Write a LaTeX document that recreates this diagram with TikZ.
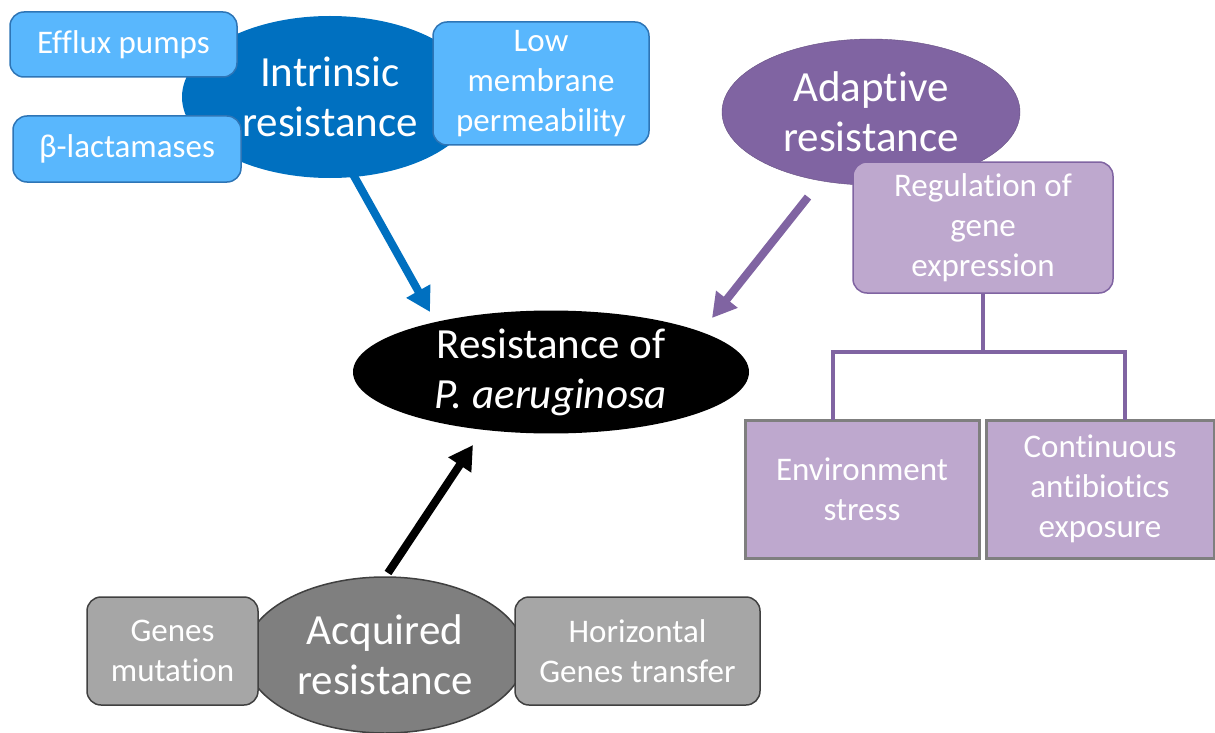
\documentclass[tikz,border=0pt]{standalone}
\usepackage{fontspec}
\setmainfont{Carlito}[Ligatures=NoCommon]
\usetikzlibrary{shapes.geometric,arrows.meta}

\definecolor{intrblue}{RGB}{0,112,192}
\definecolor{lightblue}{RGB}{89,183,253}
\definecolor{blueedge}{RGB}{46,117,182}
\definecolor{adapurple}{RGB}{128,100,162}
\definecolor{lavender}{RGB}{190,168,206}
\definecolor{acqgray}{RGB}{127,127,127}
\definecolor{boxgray}{RGB}{166,166,166}
\definecolor{edgegray}{RGB}{64,64,64}

\tikzset{
  bigoval/.style={ellipse, inner sep=0pt, text=white, align=center,
    font=\fontsize{43}{50}\selectfont},
  smallbox/.style={rounded corners=14pt, inner sep=0pt, text=white, align=center,
    font=\fontsize{33}{40}\selectfont},
  bigarrow/.style={line width=8pt, -{Triangle[width=26pt,length=24pt]}},
}

\begin{document}
\begin{tikzpicture}[x=1pt,y=-1pt]
      \useasboundingbox (0,0) rectangle (1215,733);
      % intrinsic
      \node[bigoval, fill=intrblue, minimum width=296pt, minimum height=162pt] (intr) at (330,97) {Intrinsic\\resistance};
      \node[smallbox, fill=lightblue, draw=blueedge, line width=1.5pt, minimum width=227pt, minimum height=65pt] (efflux) at (123.5,44.5) {Efflux pumps};
      \node[smallbox, fill=lightblue, draw=blueedge, line width=1.5pt, minimum width=228pt, minimum height=66pt] (lact) at (127,149) {β-lactamases};
      \node[smallbox, fill=lightblue, draw=blueedge, line width=1.5pt, minimum width=216pt, minimum height=123pt] (perm) at (541,83.5) {Low\\membrane\\permeability};
      % adaptive
      \node[bigoval, fill=adapurple, draw=adapurple!80!black, minimum width=298pt, minimum height=146pt] (adap) at (871,112) {Adaptive\\resistance};
      \node[smallbox, fill=lavender, draw=adapurple, line width=1.5pt, minimum width=260pt, minimum height=131pt] (reg) at (983,227.5) {Regulation of\\gene\\expression};
      \node[smallbox, rounded corners=0pt, fill=lavender, draw=acqgray, line width=3pt, minimum width=234pt, minimum height=138pt] (env) at (862,489) {Environment\\stress};
      \node[smallbox, rounded corners=0pt, fill=lavender, draw=acqgray, line width=3pt, minimum width=228pt, minimum height=138pt] (cont) at (1100,489) {Continuous\\antibiotics\\exposure};
      \coordinate (fork) at (983,352);
      \coordinate (envtop) at (833,420);
      \coordinate (conttop) at (1125,420);
      \draw[adapurple, line width=4pt] (reg.south) -- (fork);
      \draw[adapurple, line width=4pt] (envtop) |- (fork) -| (conttop);
      % centre
      \node[bigoval, fill=black, minimum width=396pt, minimum height=114pt] (res) at (551,372) {Resistance of\\\textit{P. aeruginosa}};
      % acquired
      \node[bigoval, fill=acqgray, draw=edgegray, line width=1.5pt, minimum width=280pt, minimum height=156pt] (acq) at (385,655) {Acquired\\resistance};
      \node[smallbox, fill=boxgray, draw=edgegray, line width=1.5pt, minimum width=171pt, minimum height=108pt] (mut) at (172.5,651) {Genes\\mutation};
      \node[smallbox, fill=boxgray, draw=edgegray, line width=1.5pt, minimum width=245pt, minimum height=108pt] (hgt) at (637.5,651) {Horizontal\\Genes transfer};
      % arrows
      \coordinate (introut) at (345,160);
      \coordinate (resin1) at (430,312);
      \coordinate (adapout) at (808,197);
      \coordinate (resin2) at (712,318);
      \coordinate (acqout) at (388,573);
      \coordinate (resin3) at (473,445);
      \draw[bigarrow, intrblue] (introut) -- (resin1);
      \draw[bigarrow, adapurple] (adapout) -- (resin2);
      \draw[bigarrow, black] (acqout) -- (resin3);
\end{tikzpicture}
\end{document}
